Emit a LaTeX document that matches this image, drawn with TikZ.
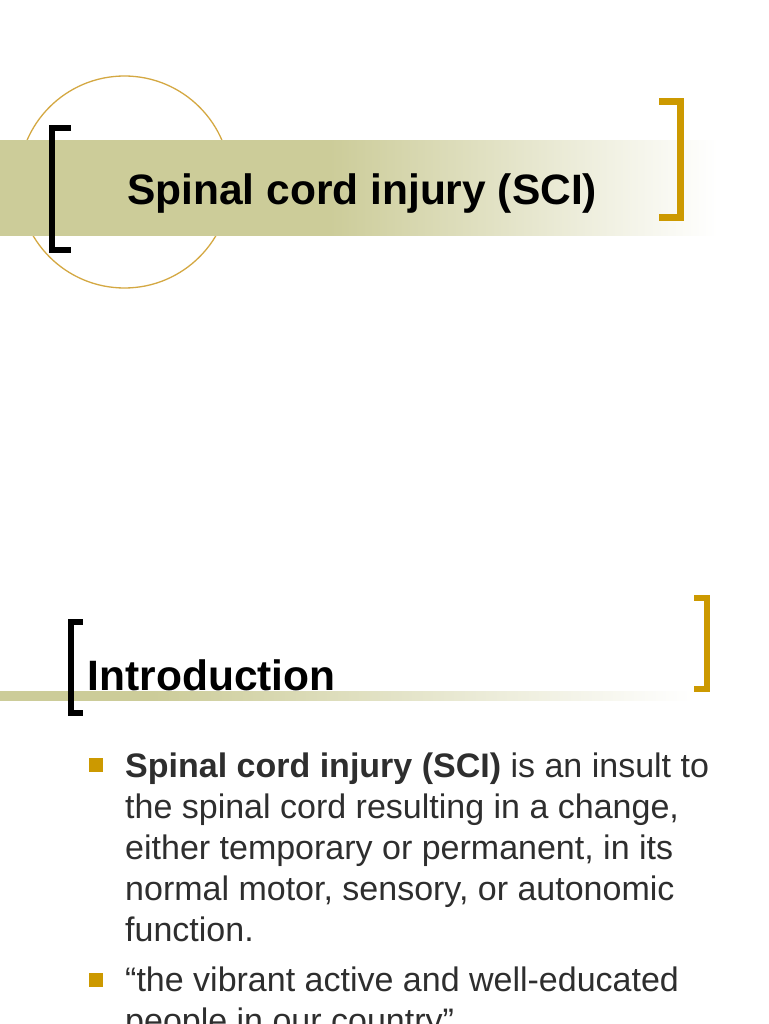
\documentclass[tikz,border=0pt]{standalone}
\usepackage{fontspec}
\setmainfont{Liberation Sans}
\usetikzlibrary{positioning}
\definecolor{band olive}{HTML}{CCCC99}
\definecolor{slide gold}{HTML}{CC9900}
\definecolor{circle gold}{HTML}{D4A842}
\definecolor{body gray}{HTML}{2E2E2E}
% colour stops between 25bp and 75bp span the band
\pgfdeclarehorizontalshading{title band}{100bp}{
    color(0bp)=(band olive); color(48bp)=(band olive);
    color(75bp)=(white); color(100bp)=(white)}
\pgfdeclarehorizontalshading{rule band}{100bp}{
    color(0bp)=(band olive); color(36bp)=(band olive);
    color(75bp)=(white); color(100bp)=(white)}
\tikzset{
    black bracket/.style={
        draw=black,
        line width=6pt,
    },
    gold bracket/.style={
        draw=slide gold,
        line width=7pt,
    },
    slide title/.style={
        anchor=base west,
        inner sep=0,
        font=\fontsize{42.5}{50}\selectfont\bfseries,
    },
    body line/.style={
        anchor=base west,
        inner sep=0,
        text=body gray,
        font=\fontsize{34}{41}\selectfont,
    },
    bullet box/.style={
        fill=slide gold,
        minimum size=14pt,
        inner sep=0,
    },
}

\begin{document}
\begin{tikzpicture}[x=1pt,y=-1pt]
    \useasboundingbox (0,0) rectangle (768,1024);
    \clip (0,0) rectangle (768,1024);
    \fill[white] (0,0) rectangle (768,1024);

    % first slide
    \draw[circle gold, line width=1.3pt] (124.5,182) circle [radius=106];
    \shade[shading=title band] (0,140.7) rectangle (717,235.7);
    \draw[black bracket] (71,128.5) -- (51.5,128.5) -- (51.5,249.5) -- (71,249.5);
    \draw[gold bracket] (659,101.2) -- (680.5,101.2) -- (680.5,217.2) -- (659,217.2);
    \node[slide title] (title) at (127,205) {Spinal cord injury (SCI)};

    % second slide
    \shade[shading=rule band] (0,691) rectangle (692,700);
    \draw[black bracket] (82.7,622.2) -- (70.5,622.2) -- (70.5,712.5) -- (82.7,712.5);
    \draw[gold bracket, line width=6pt] (694,598) -- (707,598) -- (707,689) -- (694,689);
    \node[slide title] (intro) at (87.5,690) {Introduction};

    \node[bullet box] (bulleta) at (96,765) {};
    \node[bullet box] (bulletb) at (96,980) {};

    \foreach \yy/\txt [count=\i] in {
        777/{\textbf{Spinal cord injury (SCI)} is an insult to},
        818/{the spinal cord resulting in a change,},
        859/{either temporary or permanent, in its},
        900/{normal motor, sensory, or autonomic},
        941/{function.},
        991/{“the vibrant active and well-educated},
        1032/{people in our country”}}
    {
        \node[body line] (line\i) at (125,\yy) {\txt};
    }
\end{tikzpicture}
\end{document}
